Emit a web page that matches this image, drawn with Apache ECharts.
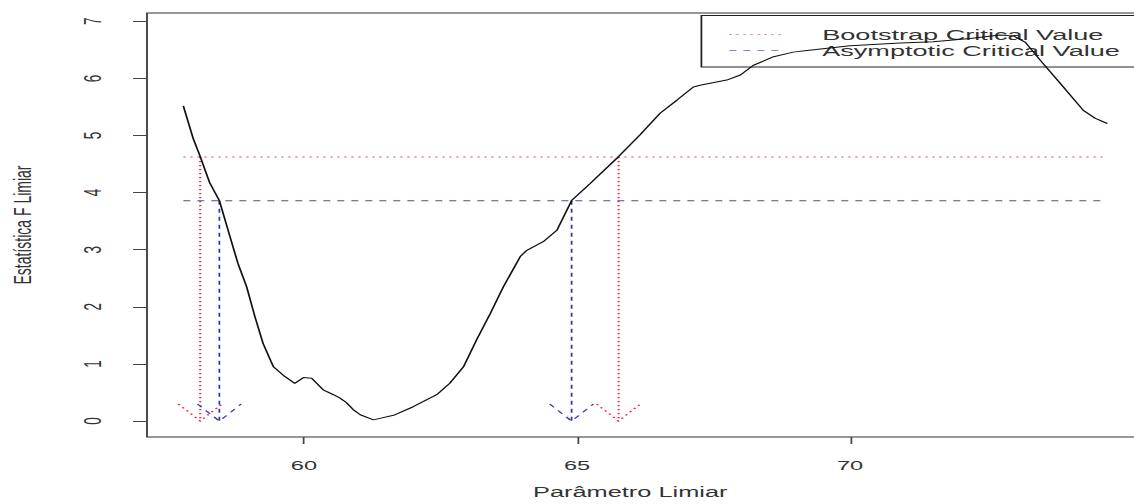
<!DOCTYPE html>
<html>
<head>
<meta charset="utf-8">
<script src="https://cdn.jsdelivr.net/npm/echarts@6/dist/echarts.min.js"></script>
<style>
  html, body { margin: 0; padding: 0; background: #fff; overflow: hidden; }
  #frame { width: 1134px; height: 504px; overflow: hidden; position: relative; }
  /* the plot is laid out on a narrow device and widened horizontally */
  #chart { width: 648px; height: 504px; transform: scaleX(1.75); transform-origin: 0 0; }
</style>
</head>
<body>
<div id="frame"><div id="chart"></div></div>
<script>
// Threshold parameter values and the F statistic computed at each one
const thresholdValues = [
  57.79, 57.97, 58.10, 58.27, 58.45, 58.61, 58.79, 58.95, 59.10, 59.25,
  59.44, 59.62, 59.83, 59.99, 60.14, 60.36, 60.54, 60.66, 60.78, 60.90,
  61.03, 61.27, 61.64, 62.00, 62.43, 62.67, 62.92, 63.16, 63.41, 63.65,
  63.96, 64.08, 64.38, 64.63, 64.90, 65.24, 65.76, 66.15, 66.52, 66.83,
  67.13, 67.25, 67.74, 67.99, 68.23, 68.60, 68.96, 69.21, 70.00, 70.92,
  71.52, 72.20, 72.75, 73.00, 73.21, 73.48, 73.85, 74.27, 74.49, 74.71
];
const fStatistic = [
  5.52, 4.95, 4.63, 4.18, 3.86, 3.34, 2.76, 2.35, 1.83, 1.36,
  0.95, 0.80, 0.66, 0.76, 0.75, 0.54, 0.46, 0.40, 0.32, 0.20,
  0.11, 0.02, 0.10, 0.25, 0.46, 0.66, 0.95, 1.42, 1.88, 2.35,
  2.88, 2.99, 3.14, 3.34, 3.86, 4.16, 4.63, 5.01, 5.39, 5.62,
  5.85, 5.88, 5.97, 6.06, 6.23, 6.38, 6.46, 6.49, 6.57, 6.62,
  6.64, 6.70, 6.76, 6.74, 6.63, 6.32, 5.91, 5.44, 5.30, 5.21
];

// Critical values and the thresholds where the statistic crosses them
const bootstrapCritical = 4.625;
const asymptoticCritical = 3.855;
const bootstrapCrossings = [58.10, 65.76];
const asymptoticCrossings = [58.45, 64.90];

// Axis ranges and ticks
const xRange = [57.125, 75.40];
const yRange = [-0.28, 7.145];
const xTicks = [60, 65, 70];
const yTicks = [0, 1, 2, 3, 4, 5, 6, 7];

const legendLabels = ['Bootstrap Critical Value', 'Asymptotic Critical Value'];
const axisTitles = { x: 'Parâmetro Limiar', y: 'Estatística F Limiar' };

const RED = '#f0283c';
const BLUE = '#3038a8';
const DOTTED = [1.3, 2.7];
const DASHED = [4, 4];
const FONT = '"Liberation Sans", Arial, sans-serif';

const curve = thresholdValues.map((x, i) => [x, fStatistic[i]]);
const xFirst = thresholdValues[0];
const xLast = thresholdValues[thresholdValues.length - 1];

const arrows = [];
bootstrapCrossings.forEach(x => arrows.push([x, bootstrapCritical, 0]));
asymptoticCrossings.forEach(x => arrows.push([x, asymptoticCritical, 1]));

const chart = echarts.init(document.getElementById('chart'), null, { renderer: 'svg' });

// Vertical arrow from a crossing point down to zero, with an open head
function renderArrow(params, api) {
  const x = api.value(0);
  const top = api.coord([x, api.value(1)]);
  const tip = api.coord([x, 0]);
  const isBoot = api.value(2) === 0;
  const style = {
    stroke: isBoot ? RED : BLUE,
    lineWidth: isBoot ? 1.2 : 1,
    lineDash: isBoot ? DOTTED : DASHED,
    fill: null
  };
  const wx = 12.5, wy = 17;
  return {
    type: 'group',
    children: [
      { type: 'line', shape: { x1: top[0], y1: top[1], x2: tip[0], y2: tip[1] }, style: style },
      { type: 'polyline', shape: { points: [[tip[0] - wx, tip[1] - wy], [tip[0], tip[1]], [tip[0] + wx, tip[1] - wy]] }, style: style }
    ]
  };
}

chart.setOption({
  animation: false,
  backgroundColor: '#fff',
  grid: {
    left: 84, right: -6.3, top: 13, bottom: 67,
    containLabel: false, outerBoundsMode: 'none',
    show: true, borderColor: '#333', borderWidth: 1, backgroundColor: 'transparent'
  },
  xAxis: {
    type: 'value',
    min: xRange[0], max: xRange[1],
    axisLine: { show: false, onZero: false },
    splitLine: { show: false },
    axisTick: { show: true, inside: false, length: 7, customValues: xTicks, lineStyle: { color: '#444' } },
    axisLabel: { customValues: xTicks, margin: 21, fontFamily: FONT, fontSize: 13.5, color: '#333' },
    name: axisTitles.x,
    nameLocation: 'middle',
    nameGap: 47,
    nameTextStyle: { fontFamily: FONT, fontSize: 14.5, color: '#333', padding: [0, 18, 0, 0] }
  },
  yAxis: {
    type: 'value',
    min: yRange[0], max: yRange[1],
    axisLine: { show: false, onZero: false },
    splitLine: { show: false },
    axisTick: { show: true, inside: false, length: 8, customValues: yTicks, lineStyle: { color: '#444' } },
    axisLabel: { customValues: yTicks, rotate: 90, margin: 24, fontFamily: FONT, fontSize: 13.5, color: '#333' },
    name: axisTitles.y,
    nameLocation: 'middle',
    nameGap: 64,
    nameRotate: 90,
    nameTextStyle: { fontFamily: FONT, fontSize: 14, color: '#333' }
  },
  graphic: [
    {
      type: 'group', left: 398.3, top: 13, z: 1,
      children: [
        { type: 'rect', shape: { x: 0, y: 0, width: 300, height: 51.5 }, style: { fill: null, stroke: '#222', lineWidth: 1 } },
        { type: 'line', shape: { x1: 16, y1: 19, x2: 48, y2: 19 }, style: { stroke: RED, opacity: 0.6, lineDash: DOTTED, lineWidth: 1 } },
        { type: 'line', shape: { x1: 16, y1: 35, x2: 48, y2: 35 }, style: { stroke: BLUE, opacity: 0.6, lineDash: DASHED, lineWidth: 1 } },
        { type: 'text', x: 69, y: 19, style: { text: legendLabels[0], font: '15.5px ' + FONT, fill: '#333', textVerticalAlign: 'middle', verticalAlign: 'middle' } },
        { type: 'text', x: 69, y: 35, style: { text: legendLabels[1], font: '15.5px ' + FONT, fill: '#333', textVerticalAlign: 'middle', verticalAlign: 'middle' } }
      ]
    }
  ],
  series: [
    {
      type: 'line', data: [[xFirst, bootstrapCritical], [xLast, bootstrapCritical]],
      symbol: 'none', silent: true, z: 3,
      lineStyle: { color: RED, width: 1, type: DOTTED, opacity: 0.85 }
    },
    {
      type: 'line', data: [[xFirst, asymptoticCritical], [xLast, asymptoticCritical]],
      symbol: 'none', silent: true, z: 3,
      lineStyle: { color: BLUE, width: 1, type: DASHED, opacity: 0.9 }
    },
    {
      type: 'custom', data: arrows, renderItem: renderArrow, silent: true, z: 4,
      encode: { x: 0, y: 1 }
    },
    {
      type: 'line', data: curve, symbol: 'none', silent: true, z: 5,
      lineStyle: { color: '#111', width: 1 }
    }
  ]
});
</script>
</body>
</html>
